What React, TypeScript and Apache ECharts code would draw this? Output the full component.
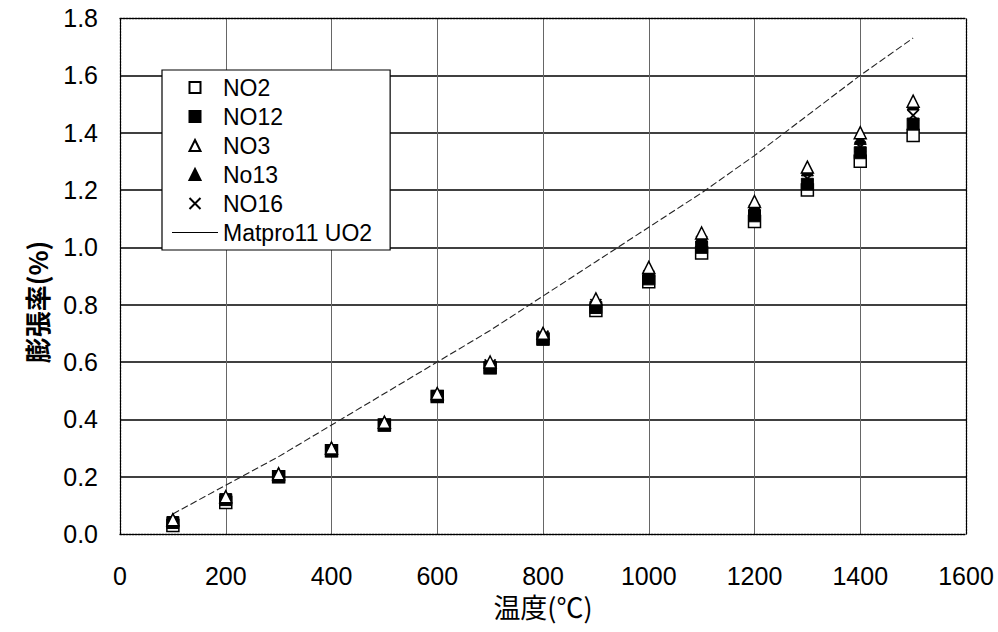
import React, { useEffect, useRef } from "react";
import * as echarts from "echarts";

const temps = [100, 200, 300, 400, 500, 600, 700, 800, 900, 1000, 1100, 1200, 1300, 1400, 1500];
const no2 = [0.03, 0.11, 0.2, 0.29, 0.38, 0.48, 0.58, 0.68, 0.78, 0.88, 0.98, 1.09, 1.2, 1.3, 1.39];
const no12 = [0.04, 0.12, 0.2, 0.29, 0.38, 0.48, 0.58, 0.68, 0.79, 0.89, 1.0, 1.11, 1.22, 1.33, 1.43];
const no3 = [0.05, 0.13, 0.21, 0.3, 0.39, 0.49, 0.6, 0.7, 0.82, 0.93, 1.05, 1.16, 1.28, 1.4, 1.51];
const no13 = [0.05, 0.13, 0.21, 0.3, 0.39, 0.49, 0.59, 0.7, 0.81, 0.92, 1.04, 1.15, 1.27, 1.38, 1.5];
const no16 = [0.04, 0.12, 0.2, 0.29, 0.38, 0.48, 0.59, 0.69, 0.8, 0.9, 1.02, 1.13, 1.24, 1.35, 1.46];
const matpro = [0.07, 0.17, 0.27, 0.38, 0.49, 0.6, 0.71, 0.83, 0.95, 1.07, 1.19, 1.32, 1.46, 1.6, 1.73];

const names = ["NO2", "NO12", "NO3", "No13", "NO16", "Matpro11 UO2"];
const xTitle = "温度(℃)";
const yTitle = "膨張率(%)";

const pair = (vals: number[]) => temps.map((t, i) => [t, vals[i]]);

const CROSS = "path://M0,0L10,10M10,0L0,10";
const SQUARE = "path://M0,0H10V10H0Z";
const TRI = "path://M5,0L10,10H0Z";
const HLINE = "path://M0,0H46V1.2H0Z";
const LATIN = "'Liberation Sans', Arial, sans-serif";
const CJK = "'Noto Sans CJK JP', 'Liberation Sans', sans-serif";

export default function App() {
  const ref = useRef<HTMLDivElement>(null);
  useEffect(() => {
    if (!ref.current) return;
    const chart = echarts.init(ref.current, null, { renderer: "svg" });
    const dotted = { color: "#000", width: 1.3, type: [2, 1] as any };
    const option: any = {
      animation: false,
      backgroundColor: "#fff",
      grid: { left: 120, right: 32, top: 18, bottom: 98, containLabel: false },
      xAxis: [
        {
          type: "value",
          min: 0,
          max: 1600,
          interval: 200,
          axisLine: { show: true, lineStyle: dotted },
          axisTick: { show: false },
          axisLabel: {
            fontSize: 25,
            color: "#000",
            fontFamily: LATIN,
            margin: 29,
            formatter: (v: number) => String(v),
          },
          splitLine: { show: true, showMinLine: false, showMaxLine: false, lineStyle: { color: "#666", width: 1 } },
          name: xTitle,
          nameLocation: "middle",
          nameGap: 59,
          nameTextStyle: { fontSize: 27, color: "#000", fontFamily: CJK },
        },
        {
          type: "value",
          position: "top",
          min: 0,
          max: 1600,
          interval: 200,
          axisLine: { show: true, onZero: false, lineStyle: dotted },
          axisTick: { show: false },
          axisLabel: { show: false },
          splitLine: { show: false },
        },
      ],
      yAxis: [
        {
          type: "value",
          min: 0,
          max: 1.8,
          interval: 0.2,
          axisLine: { show: true, onZero: false, lineStyle: dotted },
          axisTick: { show: false },
          axisLabel: {
            fontSize: 25,
            color: "#000",
            fontFamily: LATIN,
            margin: 22,
            formatter: (v: number) => v.toFixed(1),
          },
          splitLine: { show: true, showMinLine: false, showMaxLine: false, lineStyle: { color: "#000", width: 1.5 } },
        },
        {
          type: "value",
          position: "right",
          min: 0,
          max: 1.8,
          interval: 0.2,
          axisLine: { show: true, onZero: false, lineStyle: dotted },
          axisTick: { show: false },
          axisLabel: { show: false },
          splitLine: { show: false },
        },
      ],
      legend: {
        orient: "vertical",
        left: 162,
        top: 70,
        padding: [6, 18, 6, 10],
        itemWidth: 46,
        itemHeight: 11,
        itemGap: 6,
        symbolKeepAspect: true,
        backgroundColor: "#fff",
        borderColor: "#000",
        borderWidth: 1.2,
        borderRadius: 0,
        textStyle: { fontSize: 23, color: "#000", fontFamily: LATIN },
        data: [
          { name: names[0], icon: SQUARE },
          { name: names[1], icon: SQUARE },
          { name: names[2], icon: TRI },
          { name: names[3], icon: TRI },
          { name: names[4], icon: CROSS },
          { name: names[5], icon: HLINE, itemStyle: { color: "#000", borderWidth: 0 } },
        ],
      },
      graphic: [
        {
          type: "text",
          x: 36,
          y: 302,
          rotation: Math.PI / 2,
          style: {
            text: yTitle,
            fontSize: 26,
            fontWeight: "bold",
            fontFamily: CJK,
            fill: "#000",
            align: "center",
            verticalAlign: "middle",
          },
        },
      ],
      series: [
        {
          name: names[5],
          type: "line",
          data: pair(matpro),
          symbol: "none",
          smooth: false,
          itemStyle: { color: "#000" },
          lineStyle: { color: "#222", width: 1.1, type: [7, 3] },
          z: 1,
        },
        {
          name: names[0],
          type: "scatter",
          data: pair(no2),
          symbol: "rect",
          symbolSize: 12,
          itemStyle: { color: "#fff", borderColor: "#000", borderWidth: 1.5, opacity: 1 },
          z: 2,
        },
        {
          name: names[1],
          type: "scatter",
          data: pair(no12),
          symbol: "rect",
          symbolSize: 12,
          itemStyle: { color: "#000", borderColor: "#000", borderWidth: 1, opacity: 1 },
          z: 3,
        },
        {
          name: names[4],
          type: "scatter",
          data: pair(no16),
          symbol: CROSS,
          symbolSize: 11,
          itemStyle: { color: "none", borderColor: "#000", borderWidth: 1.8, opacity: 1 },
          z: 4,
        },
        {
          name: names[3],
          type: "scatter",
          data: pair(no13),
          symbol: "triangle",
          symbolSize: 12,
          itemStyle: { color: "#000", borderColor: "#000", borderWidth: 1, opacity: 1 },
          z: 5,
        },
        {
          name: names[2],
          type: "scatter",
          data: pair(no3),
          symbol: "triangle",
          symbolSize: 12,
          itemStyle: { color: "#fff", borderColor: "#000", borderWidth: 1.5, opacity: 1 },
          z: 6,
        },
      ],
    };
    chart.setOption(option);
    return () => chart.dispose();
  }, []);
  return (
    <div
      ref={ref}
      style={{ position: "fixed", left: 0, top: 0, width: 998, height: 632, background: "#fff" }}
    />
  );
}
